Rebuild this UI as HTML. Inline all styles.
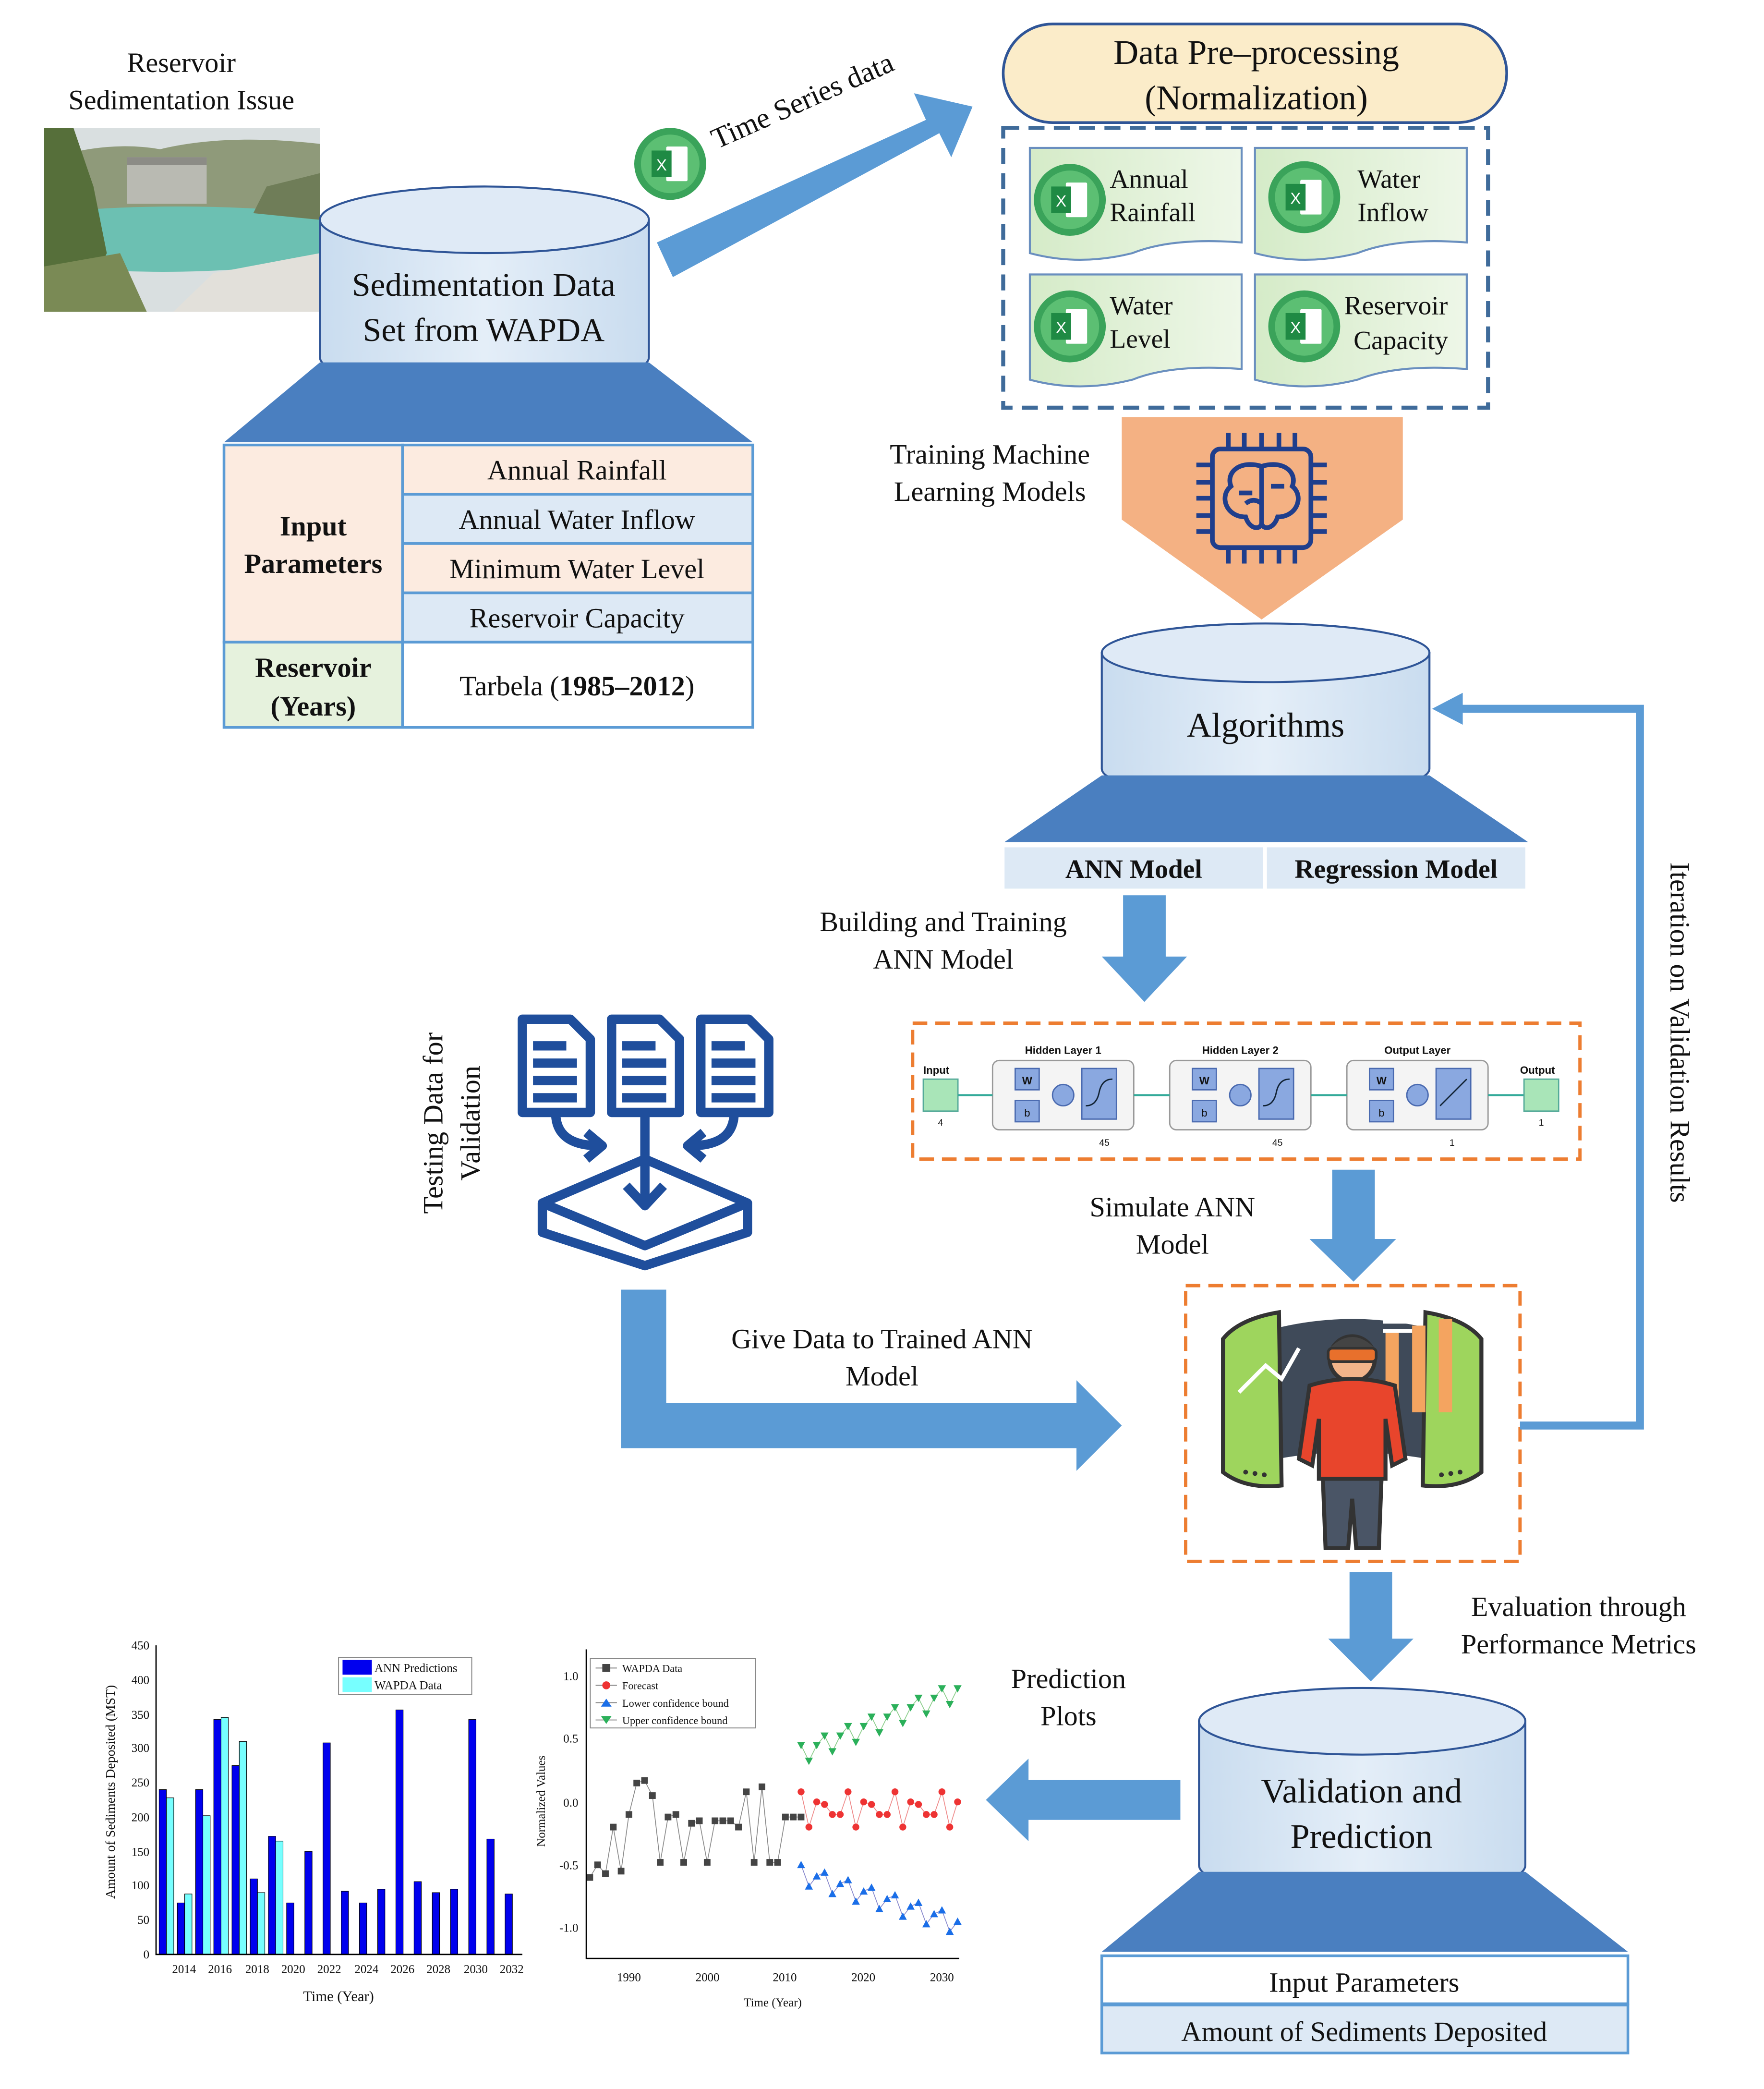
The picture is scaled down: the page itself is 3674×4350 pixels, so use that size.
<!DOCTYPE html>
<html><head><meta charset="utf-8"><style>
html,body{margin:0;padding:0;background:#fff;}
svg{display:block;}
text{font-family:"Liberation Serif",serif;fill:#111;}
.s{font-family:"Liberation Sans",sans-serif;}
</style></head><body>
<svg id="m" width="3674" height="4350" viewBox="0 0 1324 1568" xmlns="http://www.w3.org/2000/svg">
<defs>
<linearGradient id="cyl" x1="0" x2="1"><stop offset="0" stop-color="#c9dcef"/><stop offset="0.5" stop-color="#e4eef8"/><stop offset="1" stop-color="#c9dcef"/></linearGradient>
<linearGradient id="doc" x1="0" x2="1"><stop offset="0" stop-color="#d5ebc8"/><stop offset="1" stop-color="#eef7e8"/></linearGradient>
</defs>

<!-- Reservoir photo -->
<text x="136" y="54" font-size="21" text-anchor="middle">Reservoir</text>
<text x="136" y="82" font-size="21" text-anchor="middle">Sedimentation Issue</text>
<rect x="33" y="96" width="207" height="138" fill="#d9dfe0"/>
<path d="M33 120 Q80 105 120 112 Q170 100 240 108 L240 160 L33 165Z" fill="#8f9a7a"/>
<rect x="95" y="118" width="60" height="35" fill="#b9bab2"/>
<path d="M95 118 h60 v6 h-60z" fill="#8c8c86"/>
<path d="M33 160 Q130 150 240 160 L240 195 Q150 210 33 200Z" fill="#6cc0b2"/>
<path d="M33 96 L55 96 L70 140 L80 190 L60 234 L33 234Z" fill="#566f3a"/>
<path d="M33 200 L90 190 L110 234 L33 234Z" fill="#7a8a55"/>
<path d="M160 205 L240 190 L240 234 L130 234Z" fill="#e2e0da"/>
<path d="M200 140 L240 130 L240 165 L190 160Z" fill="#6f7d58"/>

<!-- Cylinder 1 -->
<path d="M240 165 L240 268 A123 25 0 0 0 487 268 L487 165Z" fill="url(#cyl)" stroke="#2f5597" stroke-width="1.5"/>
<ellipse cx="363.5" cy="165" rx="123.5" ry="25" fill="#dfeaf6" stroke="#2f5597" stroke-width="1.5"/>
<text x="363" y="222" font-size="25" text-anchor="middle">Sedimentation Data</text>
<text x="363" y="256" font-size="25" text-anchor="middle">Set from WAPDA</text>
<path d="M240 272 L487 272 L565 332 L168 332Z" fill="#4a7fc0"/>

<!-- Table -->
<g stroke="#5b9bd5" stroke-width="2">
<rect x="168" y="334" width="134" height="148" fill="#fcebe0"/>
<rect x="168" y="482" width="134" height="64" fill="#e6f2dd"/>
<rect x="302" y="334" width="263" height="37" fill="#fcebe0"/>
<rect x="302" y="371" width="263" height="37" fill="#dde9f5"/>
<rect x="302" y="408" width="263" height="37" fill="#fcebe0"/>
<rect x="302" y="445" width="263" height="37" fill="#dde9f5"/>
<rect x="302" y="482" width="263" height="64" fill="#fff"/>
</g>
<text x="235" y="402" font-size="21" font-weight="bold" text-anchor="middle">Input</text>
<text x="235" y="430" font-size="21" font-weight="bold" text-anchor="middle">Parameters</text>
<text x="235" y="508" font-size="21" font-weight="bold" text-anchor="middle">Reservoir</text>
<text x="235" y="537" font-size="21" font-weight="bold" text-anchor="middle">(Years)</text>
<text x="433" y="360" font-size="21" text-anchor="middle">Annual Rainfall</text>
<text x="433" y="397" font-size="21" text-anchor="middle">Annual Water Inflow</text>
<text x="433" y="434" font-size="21" text-anchor="middle">Minimum Water Level</text>
<text x="433" y="471" font-size="21" text-anchor="middle">Reservoir Capacity</text>
<text x="433" y="522" font-size="21" text-anchor="middle">Tarbela (<tspan font-weight="bold">1985–2012</tspan>)</text>

<!-- excel icon + arrow -->
<g id="xl"><circle cx="503" cy="123" r="27" fill="#3aa35a"/><circle cx="503" cy="123" r="22" fill="#5cbf73"/><rect x="500" y="110" width="16" height="26" fill="#fff" rx="1"/><rect x="489" y="113" width="15" height="20" fill="#1f8a44"/><text x="496.5" y="128" font-size="12" text-anchor="middle" class="s" style="fill:#fff">X</text></g>
<path d="M493 182 L695 90 L686 70 L730 80 L714 118 L705 100 L505 208Z" fill="#5b9bd5"/>
<text x="0" y="0" font-size="22" transform="translate(538 112) rotate(-24)">Time Series data</text>

<!-- pre-processing -->
<rect x="753" y="18" width="378" height="74" rx="37" fill="#fbecc9" stroke="#2f5597" stroke-width="2"/>
<text x="943" y="48" font-size="26" text-anchor="middle">Data Pre–processing</text>
<text x="943" y="82" font-size="26" text-anchor="middle">(Normalization)</text>
<rect x="753" y="96" width="364" height="210" fill="none" stroke="#3f6b9a" stroke-width="3" stroke-dasharray="12 7"/>
<g stroke="#6a8fbf" stroke-width="1.5" fill="url(#doc)">
<path d="M773 111 H932 V182 Q880 178 850 190 Q810 200 773 190Z"/>
<path d="M942 111 H1101 V182 Q1049 178 1019 190 Q979 200 942 190Z"/>
<path d="M773 206 H932 V277 Q880 273 850 285 Q810 295 773 285Z"/>
<path d="M942 206 H1101 V277 Q1049 273 1019 285 Q979 295 942 285Z"/>
</g>
<use href="#xl" transform="translate(300 27)"/>
<use href="#xl" transform="translate(476 25)"/>
<use href="#xl" transform="translate(300 122)"/>
<use href="#xl" transform="translate(476 122)"/>
<text x="833" y="141" font-size="20">Annual</text><text x="833" y="166" font-size="20">Rainfall</text>
<text x="1019" y="141" font-size="20">Water</text><text x="1019" y="166" font-size="20">Inflow</text>
<text x="833" y="236" font-size="20">Water</text><text x="833" y="261" font-size="20">Level</text>
<text x="1009" y="236" font-size="20">Reservoir</text><text x="1016" y="262" font-size="20">Capacity</text>

<!-- orange arrow -->
<path d="M842 313 H1053 V390 L947 465 L842 390Z" fill="#f4b183"/>
<g stroke="#1f3e8c" stroke-width="3.5" fill="none">
<rect x="910" y="337" width="74" height="74" rx="6"/>
<path d="M922 337 v-12 M934 337 v-12 M947 337 v-12 M960 337 v-12 M972 337 v-12 M922 411 v12 M934 411 v12 M947 411 v12 M960 411 v12 M972 411 v12 M910 349 h-12 M910 362 h-12 M910 374 h-12 M910 387 h-12 M910 399 h-12 M984 349 h12 M984 362 h12 M984 374 h12 M984 387 h12 M984 399 h12"/>
<path d="M947 350 C930 345 920 355 924 365 C915 372 920 388 935 388 C938 398 947 398 947 392 M947 350 C964 345 974 355 970 365 C979 372 974 388 959 388 C956 398 947 398 947 392 M947 350 V392 M930 370 h10 M954 365 h10 M935 378 q6 -5 12 0"/>
</g>
<text x="743" y="348" font-size="21" text-anchor="middle">Training Machine</text>
<text x="743" y="376" font-size="21" text-anchor="middle">Learning Models</text>

<!-- Algorithms -->
<path d="M827 490 L827 577 A123 22 0 0 0 1073 577 L1073 490Z" fill="url(#cyl)" stroke="#2f5597" stroke-width="1.5"/>
<ellipse cx="950" cy="490" rx="123" ry="22" fill="#dfeaf6" stroke="#2f5597" stroke-width="1.5"/>
<text x="950" y="553" font-size="26" text-anchor="middle">Algorithms</text>
<path d="M827 582 L1073 582 L1147 632 L754 632Z" fill="#4a7fc0"/>
<rect x="754" y="636" width="194" height="31" fill="#dde9f5"/>
<rect x="951" y="636" width="194" height="31" fill="#dde9f5"/>
<text x="851" y="659" font-size="20" font-weight="bold" text-anchor="middle">ANN Model</text>
<text x="1048" y="659" font-size="20" font-weight="bold" text-anchor="middle">Regression Model</text>

<path d="M843 672 H875 V718 H891 L859 752 L827 718 H843Z" fill="#5b9bd5"/>
<text x="708" y="699" font-size="21" text-anchor="middle">Building and Training</text>
<text x="708" y="727" font-size="21" text-anchor="middle">ANN Model</text>

<!-- ANN diagram -->
<rect x="685" y="768" width="501" height="102" fill="#fff" stroke="#ed7d31" stroke-width="2.5" stroke-dasharray="11 6"/>
<g>
<text x="693" y="806" font-size="8" font-weight="bold" class="s">Input</text>
<rect x="693" y="810" width="26" height="24" fill="#a9e5b8" stroke="#5a9"/>
<text x="704" y="845" font-size="7" class="s">4</text>
<rect x="745" y="796" width="106" height="52" rx="5" fill="#f4f4f4" stroke="#999"/>
<rect x="878" y="796" width="106" height="52" rx="5" fill="#f4f4f4" stroke="#999"/>
<rect x="1011" y="796" width="106" height="52" rx="5" fill="#f4f4f4" stroke="#999"/>
<text x="798" y="791" font-size="8" font-weight="bold" text-anchor="middle" class="s">Hidden Layer 1</text>
<text x="931" y="791" font-size="8" font-weight="bold" text-anchor="middle" class="s">Hidden Layer 2</text>
<text x="1064" y="791" font-size="8" font-weight="bold" text-anchor="middle" class="s">Output Layer</text>
<g fill="#8aa8e0" stroke="#4a6ab0">
<rect x="762" y="802" width="18" height="16"/><rect x="762" y="826" width="18" height="16"/><rect x="812" y="802" width="26" height="38"/>
<rect x="895" y="802" width="18" height="16"/><rect x="895" y="826" width="18" height="16"/><rect x="945" y="802" width="26" height="38"/>
<rect x="1028" y="802" width="18" height="16"/><rect x="1028" y="826" width="18" height="16"/><rect x="1078" y="802" width="26" height="38"/>
<circle cx="798" cy="822" r="8"/><circle cx="931" cy="822" r="8"/><circle cx="1064" cy="822" r="8"/>
</g>
<path d="M815 830 q8 0 10 -10 q2 -10 10 -10 M948 830 q8 0 10 -10 q2 -10 10 -10 M1081 830 l20 -20" stroke="#123" stroke-width="1" fill="none"/>
<text x="771" y="814" font-size="8" font-weight="bold" text-anchor="middle" class="s">W</text><text x="771" y="838" font-size="8" text-anchor="middle" class="s">b</text>
<text x="904" y="814" font-size="8" font-weight="bold" text-anchor="middle" class="s">W</text><text x="904" y="838" font-size="8" text-anchor="middle" class="s">b</text>
<text x="1037" y="814" font-size="8" font-weight="bold" text-anchor="middle" class="s">W</text><text x="1037" y="838" font-size="8" text-anchor="middle" class="s">b</text>
<path d="M719 822 H745 M851 822 H878 M984 822 H1011 M1117 822 H1144" stroke="#3a9" stroke-width="1.5"/>
<text x="825" y="860" font-size="7" class="s">45</text><text x="955" y="860" font-size="7" class="s">45</text><text x="1088" y="860" font-size="7" class="s">1</text>
<text x="1141" y="806" font-size="8" font-weight="bold" class="s">Output</text>
<rect x="1144" y="810" width="26" height="24" fill="#a9e5b8" stroke="#5a9"/>
<text x="1155" y="845" font-size="7" class="s">1</text>
</g>

<path d="M1000 878 H1032 V930 H1048 L1016 962 L983 930 H1000Z" fill="#5b9bd5"/>
<text x="880" y="913" font-size="21" text-anchor="middle">Simulate ANN</text>
<text x="880" y="941" font-size="21" text-anchor="middle">Model</text>

<!-- person box -->
<rect x="890" y="965" width="251" height="207" fill="#fff" stroke="#ed7d31" stroke-width="2.5" stroke-dasharray="11 6"/>
<path d="M918 1010 Q1015 970 1112 1010 L1112 1105 Q1015 1075 918 1105Z" fill="#3f4a59"/>
<path d="M918 1005 Q930 990 960 985 L962 1115 Q935 1118 918 1105Z" fill="#9ed55d" stroke="#333" stroke-width="3"/>
<path d="M1112 1005 Q1100 990 1070 985 L1068 1115 Q1095 1118 1112 1105Z" fill="#9ed55d" stroke="#333" stroke-width="3"/>
<path d="M1040 1000 h10 v60 h-10z M1060 995 h10 v65 h-10z M1080 990 h10 v70 h-10z" fill="#f4a460"/>
<path d="M930 1045 L950 1025 L962 1035 L975 1012" stroke="#fff" stroke-width="3" fill="none"/>
<path d="M1038 985 h22 M1038 992 h22 M1038 999 h22" stroke="#fff" stroke-width="3"/>
<circle cx="935" cy="1105" r="1.8" fill="#333"/><circle cx="942" cy="1106" r="1.8" fill="#333"/><circle cx="949" cy="1107" r="1.8" fill="#333"/>
<circle cx="1082" cy="1107" r="1.8" fill="#333"/><circle cx="1089" cy="1106" r="1.8" fill="#333"/><circle cx="1096" cy="1105" r="1.8" fill="#333"/>
<circle cx="1015" cy="1020" r="17" fill="#f2b48a" stroke="#333" stroke-width="3"/>
<path d="M998 1012 Q1015 995 1032 1012 L1032 1020 L998 1020Z" fill="#444"/>
<rect x="997" y="1012" width="36" height="10" rx="3" fill="#e8702c" stroke="#333" stroke-width="2"/>
<path d="M983 1040 Q1015 1030 1047 1040 L1055 1095 L1045 1100 L1040 1065 L1040 1110 L990 1110 L990 1065 L985 1100 L975 1095Z" fill="#e8452c" stroke="#333" stroke-width="3"/>
<path d="M993 1110 H1037 L1035 1162 H1018 L1015 1125 L1012 1162 H995Z" fill="#4a5566" stroke="#333" stroke-width="3"/>

<!-- iteration loop -->
<path d="M1141 1070 H1231 V532 H1095" fill="none" stroke="#5b9bd5" stroke-width="6"/>
<path d="M1075 532 L1098 520 L1098 544Z" fill="#5b9bd5"/>
<text x="0" y="0" font-size="21" text-anchor="middle" transform="translate(1254 775) rotate(90)">Iteration on Validation Results</text>

<!-- testing data icon -->
<g stroke="#1f4e9c" stroke-width="7" fill="none" stroke-linejoin="round">
<path d="M392 765 H428 L443 780 V835 H392Z M400 785 h25 M400 798 h33 M400 811 h33 M400 824 h33"/>
<path d="M459 765 H495 L510 780 V835 H459Z M467 785 h25 M467 798 h33 M467 811 h33 M467 824 h33"/>
<path d="M526 765 H562 L577 780 V835 H526Z M534 785 h25 M534 798 h33 M534 811 h33 M534 824 h33"/>
<path d="M484 835 V905 M470 890 L484 905 L498 890 M417 835 Q417 860 450 860 M440 850 L452 860 L440 870 M551 835 Q551 860 518 860 M528 850 L516 860 L528 870"/>
<path d="M407 903 L484 870 L561 903 L484 935Z M407 903 V925 L484 950 L561 925 V903"/>
</g>
<text x="0" y="0" font-size="21" text-anchor="middle" transform="translate(332 843) rotate(-90)">Testing Data for</text>
<text x="0" y="0" font-size="21" text-anchor="middle" transform="translate(360 843) rotate(-90)">Validation</text>

<path d="M466 968 H500 V1053 H808 V1036 L842 1070 L808 1104 V1087 H466Z" fill="#5b9bd5"/>
<text x="662" y="1012" font-size="21" text-anchor="middle">Give Data to Trained ANN</text>
<text x="662" y="1040" font-size="21" text-anchor="middle">Model</text>

<path d="M1013 1180 H1045 V1230 H1061 L1029 1262 L997 1230 H1013Z" fill="#5b9bd5"/>
<text x="1185" y="1213" font-size="21" text-anchor="middle">Evaluation through</text>
<text x="1185" y="1241" font-size="21" text-anchor="middle">Performance Metrics</text>

<!-- Validation cylinder -->
<path d="M900 1292 L900 1400 A122 25 0 0 0 1145 1400 L1145 1292Z" fill="url(#cyl)" stroke="#2f5597" stroke-width="1.5"/>
<ellipse cx="1022.5" cy="1292" rx="122.5" ry="25" fill="#dfeaf6" stroke="#2f5597" stroke-width="1.5"/>
<text x="1022" y="1353" font-size="26" text-anchor="middle">Validation and</text>
<text x="1022" y="1387" font-size="26" text-anchor="middle">Prediction</text>
<path d="M900 1405 L1145 1405 L1222 1465 L827 1465Z" fill="#4a7fc0"/>
<rect x="827" y="1468" width="395" height="36" fill="#fff" stroke="#5b9bd5" stroke-width="2"/>
<rect x="827" y="1505" width="395" height="36" fill="#dde9f5" stroke="#5b9bd5" stroke-width="2"/>
<text x="1024" y="1495" font-size="21" text-anchor="middle">Input Parameters</text>
<text x="1024" y="1532" font-size="21" text-anchor="middle">Amount of Sediments Deposited</text>

<path d="M886 1336 V1366 H772 V1382 L740 1351 L772 1320 V1336Z" fill="#5b9bd5"/>
<text x="802" y="1267" font-size="21" text-anchor="middle">Prediction</text>
<text x="802" y="1295" font-size="21" text-anchor="middle">Plots</text>

<!-- bar chart -->
<g id="bars"></g>
<path d="M117 1235 V1467 H392" fill="none" stroke="#000" stroke-width="1"/>
<g>
<text x="112" y="1470" font-size="9" text-anchor="end">0</text>
<text x="112" y="1444" font-size="9" text-anchor="end">50</text>
<text x="112" y="1418" font-size="9" text-anchor="end">100</text>
<text x="112" y="1393" font-size="9" text-anchor="end">150</text>
<text x="112" y="1367" font-size="9" text-anchor="end">200</text>
<text x="112" y="1341" font-size="9" text-anchor="end">250</text>
<text x="112" y="1315" font-size="9" text-anchor="end">300</text>
<text x="112" y="1290" font-size="9" text-anchor="end">350</text>
<text x="112" y="1264" font-size="9" text-anchor="end">400</text>
<text x="112" y="1238" font-size="9" text-anchor="end">450</text>
<text x="138" y="1481" font-size="9" text-anchor="middle">2014</text>
<text x="165" y="1481" font-size="9" text-anchor="middle">2016</text>
<text x="193" y="1481" font-size="9" text-anchor="middle">2018</text>
<text x="220" y="1481" font-size="9" text-anchor="middle">2020</text>
<text x="247" y="1481" font-size="9" text-anchor="middle">2022</text>
<text x="275" y="1481" font-size="9" text-anchor="middle">2024</text>
<text x="302" y="1481" font-size="9" text-anchor="middle">2026</text>
<text x="329" y="1481" font-size="9" text-anchor="middle">2028</text>
<text x="357" y="1481" font-size="9" text-anchor="middle">2030</text>
<text x="384" y="1481" font-size="9" text-anchor="middle">2032</text>
</g>
<text x="254" y="1502" font-size="11" text-anchor="middle">Time (Year)</text>
<text x="0" y="0" font-size="10" text-anchor="middle" transform="translate(86 1345) rotate(-90)">Amount of Sediments Deposited (MST)</text>
<rect x="254" y="1244" width="100" height="28" fill="#fff" stroke="#888" stroke-width="0.7"/>
<rect x="257" y="1246" width="22" height="11" fill="#0000ee"/>
<rect x="257" y="1259" width="22" height="11" fill="#7ff"/>
<text x="281" y="1255" font-size="9">ANN Predictions</text>
<text x="281" y="1268" font-size="9">WAPDA Data</text>

<!-- line chart -->
<g id="lc"></g>
<path d="M440 1238 V1470 H720" fill="none" stroke="#000" stroke-width="1"/>
<g>
<text x="434" y="1261" font-size="9" text-anchor="end">1.0</text>
<text x="434" y="1308" font-size="9" text-anchor="end">0.5</text>
<text x="434" y="1356" font-size="9" text-anchor="end">0.0</text>
<text x="434" y="1403" font-size="9" text-anchor="end">-0.5</text>
<text x="434" y="1450" font-size="9" text-anchor="end">-1.0</text>
<text x="472" y="1487" font-size="9" text-anchor="middle">1990</text>
<text x="531" y="1487" font-size="9" text-anchor="middle">2000</text>
<text x="589" y="1487" font-size="9" text-anchor="middle">2010</text>
<text x="648" y="1487" font-size="9" text-anchor="middle">2020</text>
<text x="707" y="1487" font-size="9" text-anchor="middle">2030</text>
</g>
<text x="580" y="1506" font-size="9" text-anchor="middle">Time (Year)</text>
<text x="0" y="0" font-size="9" text-anchor="middle" transform="translate(409 1352) rotate(-90)">Normalized Values</text>
<rect x="443" y="1245" width="124" height="52" fill="#fff" stroke="#888" stroke-width="0.7"/>
<text x="467" y="1255" font-size="8">WAPDA Data</text>
<text x="467" y="1268" font-size="8">Forecast</text>
<text x="467" y="1281" font-size="8">Lower confidence bound</text>
<text x="467" y="1294" font-size="8">Upper confidence bound</text>
<path d="M447 1252 h16 M447 1265 h16 M447 1278 h16 M447 1291 h16" stroke="#888" stroke-width="0.7"/>
<rect x="452" y="1249" width="6" height="6" fill="#444"/>
<circle cx="455" cy="1265" r="3" fill="#e33"/>
<path d="M455 1275 L459 1281 L451 1281Z" fill="#1a6ee8"/>
<path d="M455 1294 L459 1288 L451 1288Z" fill="#2bb05a"/>
</svg>
<script>
(function(){
var ns="http://www.w3.org/2000/svg";
function el(p,t,a){var e=document.createElementNS(ns,t);for(var k in a)e.setAttribute(k,a[k]);p.appendChild(e);return e;}
var b=document.getElementById('bars');
var ann=[240,75,240,342,275,110,172,75,150,308,92,75,95,356,106,90,95,342,168,88];
var wap=[228,88,202,345,310,90,165];
for(var i=0;i<20;i++){var x=124.3+i*13.67;var h=ann[i]*0.5156;
el(b,'rect',{x:x-5,y:1467-h,width:5.5,height:h,fill:'#0000ee',stroke:'#000','stroke-width':0.4});
if(i<7){var h2=wap[i]*0.5156;el(b,'rect',{x:x+0.5,y:1467-h2,width:5.5,height:h2,fill:'#7ff',stroke:'#000','stroke-width':0.4});}}
var g=document.getElementById('lc');
function X(y){return 472+(y-1990)*5.875;} function Y(v){return 1352.5-v*94.5;}
var w=[-0.6,-0.5,-0.57,-0.2,-0.55,-0.1,0.15,0.17,0.05,-0.48,-0.12,-0.1,-0.48,-0.17,-0.15,-0.48,-0.15,-0.15,-0.15,-0.2,0.08,-0.48,0.12,-0.48,-0.48,-0.12,-0.12,-0.12];
function line(arr,y0,c){var d='';for(var i=0;i<arr.length;i++)d+=(i?'L':'M')+X(y0+i)+' '+Y(arr[i]);el(g,'path',{d:d,fill:'none',stroke:c,'stroke-width':0.6});}
line(w,1985,'#888');
for(var i=0;i<w.length;i++)el(g,'rect',{x:X(1985+i)-2.5,y:Y(w[i])-2.5,width:5,height:5,fill:'#444'});
var f=[],u=[],l=[];
for(var i=0;i<21;i++){var z=(i%3==0)?0.08:(i%3==1?-0.1:0);f.push(-0.05+z+((i%2)?-0.05:0.05));u.push(0.45+i*0.025+(i%3==1?-0.15:(i%3==2?-0.05:0)));l.push(-0.5-i*0.02+(i%3==1?-0.15:(i%3==2?-0.05:0)));}
line(f,2012,'#e88');line(u,2012,'#8c8');line(l,2012,'#88c');
for(var i=0;i<21;i++){var x=X(2012+i);
el(g,'circle',{cx:x,cy:Y(f[i]),r:2.6,fill:'#e33'});
var y=Y(u[i]);el(g,'path',{d:'M'+(x-3)+' '+(y-2.5)+' L'+(x+3)+' '+(y-2.5)+' L'+x+' '+(y+3)+'Z',fill:'#2bb05a'});
y=Y(l[i]);el(g,'path',{d:'M'+(x-3)+' '+(y+2.5)+' L'+(x+3)+' '+(y+2.5)+' L'+x+' '+(y-3)+'Z',fill:'#1a6ee8'});}
})();
</script>
</body></html>
